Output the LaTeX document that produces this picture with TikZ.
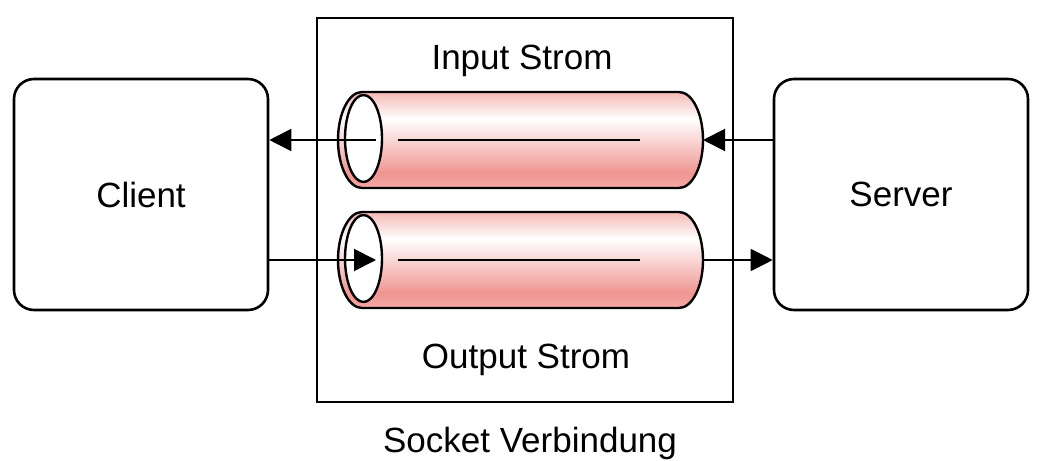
\documentclass[tikz,border=0pt]{standalone}
\usepackage{fontspec}
\setmainfont{Liberation Sans}
\usepackage{tikz}
\usetikzlibrary{arrows.meta}
\usetikzlibrary{calc,positioning}

\definecolor{tubetop}{RGB}{244,184,182}
\definecolor{tubedark}{RGB}{239,150,146}
\definecolor{tubelow}{RGB}{242,168,165}
\pgfdeclareverticalshading{tubeshade}{100bp}{color(0bp)=(tubelow); color(25bp)=(tubelow);
  color(33bp)=(tubedark); color(61bp)=(white); color(75bp)=(tubetop); color(100bp)=(tubetop)}

\tikzset{
  every node/.style={font=\fontsize{17.5}{21}\selectfont},
  endbox/.style={draw,line width=1.3pt,rounded corners=10pt,inner sep=0pt,
    minimum width=127pt,minimum height=115.5pt},
  flow/.style={line width=1pt,-{Triangle[length=11pt,width=11pt]}}
}

\begin{document}
\begin{tikzpicture}[x=0.5pt,y=0.5pt]
      \useasboundingbox (0,0) rectangle (1042,460);

      % Socket
      \node[draw,line width=1.3pt,inner sep=0pt,minimum width=208pt,minimum height=192pt]
        (socket) at (525,250) {};
      \node[anchor=base] (instrom) at (522,390) {Input Strom};
      \node[anchor=base] (outstrom) at (526,91) {Output Strom};
      \node[anchor=base] (sockname) at (530,8) {Socket Verbindung};

      % Client und Server
      \node[endbox] (client) at (141,265.5) {Client};
      \node[endbox] (server) at (901,265.5) {Server};

      % Stroeme
      \foreach \y/\n in {320/in,200/out}{
        \draw[line width=1.2pt,shading=tubeshade]
          (362,\y+48) -- (679,\y+48)
          arc[start angle=90,end angle=-90,x radius=24,y radius=48]
          -- (362,\y-48)
          arc[start angle=270,end angle=90,x radius=24,y radius=48] -- cycle;
        \draw[line width=1.2pt,fill=white] (363.5,\y+1.5) ellipse[x radius=18.5,y radius=43.5];
        \draw[line width=1pt] (398,\y) -- (640,\y);
        \coordinate (\n L) at (376,\y);
        \coordinate (\n R) at (703,\y);
      }

      % Verbindungen
      \draw[flow] (server.west |- inR) -- (inR);
      \draw[flow] (inL) -- (client.east |- inL);
      \draw[flow] (client.east |- outL) -- (outL);
      \draw[flow] (outR) -- (server.west |- outR);
    \end{tikzpicture}
\end{document}
